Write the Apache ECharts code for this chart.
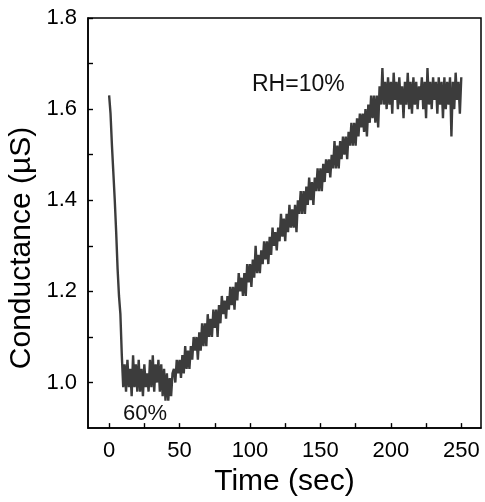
<!DOCTYPE html>
<html>
<head>
<meta charset="utf-8">
<script src="https://cdn.jsdelivr.net/npm/echarts@6/dist/echarts.min.js"></script>
<style>html,body{margin:0;padding:0;background:#fff}#c{width:485px;height:502px}</style>
</head>
<body>
<div id="c"></div>
<script>
// Time (sec)
var timeSec = [
0,1,2,3,4,5,6,7,8,9,10,11,12,13,14,15,16,17,18,19,20,21,22,23,24,25,26,27,28,29,
30,31,32,33,34,35,36,37,38,39,40,41,42,43,44,45,46,47,48,49,50,51,52,53,54,55,56,57,58,59,
60,61,62,63,64,65,66,67,68,69,70,71,72,73,74,75,76,77,78,79,80,81,82,83,84,85,86,87,88,89,
90,91,92,93,94,95,96,97,98,99,100,101,102,103,104,105,106,107,108,109,110,111,112,113,114,115,116,117,118,119,
120,121,122,123,124,125,126,127,128,129,130,131,132,133,134,135,136,137,138,139,140,141,142,143,144,145,146,147,148,149,
150,151,152,153,154,155,156,157,158,159,160,161,162,163,164,165,166,167,168,169,170,171,172,173,174,175,176,177,178,179,
180,181,182,183,184,185,186,187,188,189,190,191,192,193,194,195,196,197,198,199,200,201,202,203,204,205,206,207,208,209,
210,211,212,213,214,215,216,217,218,219,220,221,222,223,224,225,226,227,228,229,230,231,232,233,234,235,236,237,238,239,
240,241,242,243,244,245,246,247,248,249,250
];
// Conductance (µS)
var conductance = [
1.63,1.59,1.52,1.46,1.40,1.33,1.25,1.19,1.15,1.06,0.99,1.04,0.98,1.05,0.99,1.03,0.97,1.06,0.99,1.04,
0.98,1.05,0.98,1.03,0.97,1.04,0.99,1.02,0.98,1.05,0.99,1.06,0.98,1.04,1.00,1.05,0.98,1.04,0.97,1.03,
0.96,1.02,0.96,1.01,0.97,1.02,1.03,1.00,1.05,1.02,1.05,1.01,1.06,1.02,1.08,1.03,1.07,1.03,1.08,1.05,
1.10,1.07,1.10,1.05,1.11,1.07,1.13,1.08,1.13,1.08,1.15,1.10,1.14,1.10,1.16,1.12,1.16,1.10,1.17,1.13,
1.19,1.15,1.18,1.14,1.19,1.16,1.21,1.17,1.21,1.16,1.22,1.18,1.24,1.20,1.23,1.19,1.24,1.19,1.26,1.22,
1.26,1.21,1.27,1.23,1.30,1.24,1.28,1.24,1.29,1.26,1.31,1.27,1.31,1.26,1.32,1.28,1.34,1.30,1.33,1.29,
1.34,1.31,1.37,1.32,1.36,1.31,1.37,1.33,1.39,1.34,1.38,1.34,1.39,1.33,1.40,1.37,1.42,1.37,1.42,1.37,
1.43,1.39,1.45,1.40,1.44,1.39,1.45,1.42,1.47,1.42,1.47,1.42,1.48,1.44,1.49,1.46,1.49,1.45,1.50,1.47,
1.53,1.47,1.52,1.47,1.53,1.49,1.54,1.50,1.54,1.49,1.55,1.52,1.57,1.52,1.57,1.52,1.58,1.54,1.59,1.56,
1.59,1.55,1.60,1.54,1.61,1.57,1.63,1.58,1.63,1.57,1.63,1.56,1.65,1.61,1.69,1.61,1.66,1.60,1.67,1.61,
1.66,1.59,1.68,1.62,1.66,1.60,1.67,1.61,1.65,1.58,1.66,1.61,1.68,1.60,1.66,1.59,1.67,1.61,1.66,1.60,
1.65,1.62,1.67,1.60,1.66,1.58,1.69,1.61,1.66,1.60,1.67,1.62,1.66,1.59,1.67,1.61,1.66,1.58,1.67,1.60,
1.66,1.61,1.67,1.54,1.66,1.60,1.68,1.62,1.66,1.59,1.67
];
var xTicks = [0, 50, 100, 150, 200, 250];
var xAllTicks = [0, 25, 50, 75, 100, 125, 150, 175, 200, 225, 250];
var yTicks = [1.0, 1.2, 1.4, 1.6, 1.8];
var yAllTicks = [1.0, 1.1, 1.2, 1.3, 1.4, 1.5, 1.6, 1.7, 1.8];
var xTitle = 'Time (sec)';
var yTitle = 'Conductance (\u00b5S)';
var annotations = ['RH=10%', '60%'];

var pts = timeSec.map(function (t, i) { return [t, conductance[i]]; });
var FONT = '"Liberation Sans", Arial, sans-serif';
var chart = echarts.init(document.getElementById('c'), null, {renderer: 'canvas'});
var xMin = -15, xMax = 264, yMin = 0.9, yMax = 1.8;

function tickAxis(min, max, pos, vals, len) {
  return {
    type: 'value', min: min, max: max, position: pos,
    axisLine: {show: false, onZero: false},
    axisTick: {show: true, inside: true, length: len, customValues: vals, lineStyle: {color: '#000', width: 1.4}},
    axisLabel: {show: false, customValues: vals},
    splitLine: {show: false}
  };
}

chart.setOption({
  animation: false,
  backgroundColor: '#fff',
  grid: {left: 88, right: 4, top: 18, bottom: 69, show: true, borderColor: '#000', borderWidth: 1.5, containLabel: false},
  xAxis: [{
    type: 'value', min: xMin, max: xMax, position: 'bottom',
    name: xTitle, nameLocation: 'middle', nameGap: 30,
    nameTextStyle: {fontFamily: FONT, fontSize: 30, color: '#000'},
    axisLine: {show: true, onZero: false, lineStyle: {color: '#000', width: 1.5}},
    axisTick: {show: false},
    axisLabel: {show: true, customValues: xTicks, margin: 12, fontFamily: FONT, fontSize: 22, color: '#000'},
    splitLine: {show: false}
  }, tickAxis(xMin, xMax, 'bottom', xAllTicks, 5)],
  yAxis: [{
    type: 'value', min: yMin, max: yMax, position: 'left',
    axisLine: {show: true, onZero: false, lineStyle: {color: '#000', width: 1.5}},
    axisTick: {show: false},
    axisLabel: {show: true, customValues: yTicks, margin: 11, fontFamily: FONT, fontSize: 22, color: '#000',
      formatter: function (v) { return v.toFixed(1); }},
    splitLine: {show: false}
  }, tickAxis(yMin, yMax, 'left', yAllTicks, 5)],
  series: [{
    type: 'line', data: pts, xAxisIndex: 0, yAxisIndex: 0,
    symbol: 'none', smooth: false,
    lineStyle: {color: '#3c3c3c', width: 2.4}
  }],
  graphic: [
    {type: 'text', left: 252, top: 73, style: {text: annotations[0], font: '23px ' + FONT, fill: '#111'}},
    {type: 'text', left: 123, top: 403, style: {text: annotations[1], font: '22px ' + FONT, fill: '#111'}},
    {type: 'text', x: 22, y: 248, rotation: Math.PI / 2,
      style: {text: yTitle, font: '30px ' + FONT, fill: '#000', textAlign: 'center', textVerticalAlign: 'middle'}}
  ]
});
</script>
</body>
</html>
